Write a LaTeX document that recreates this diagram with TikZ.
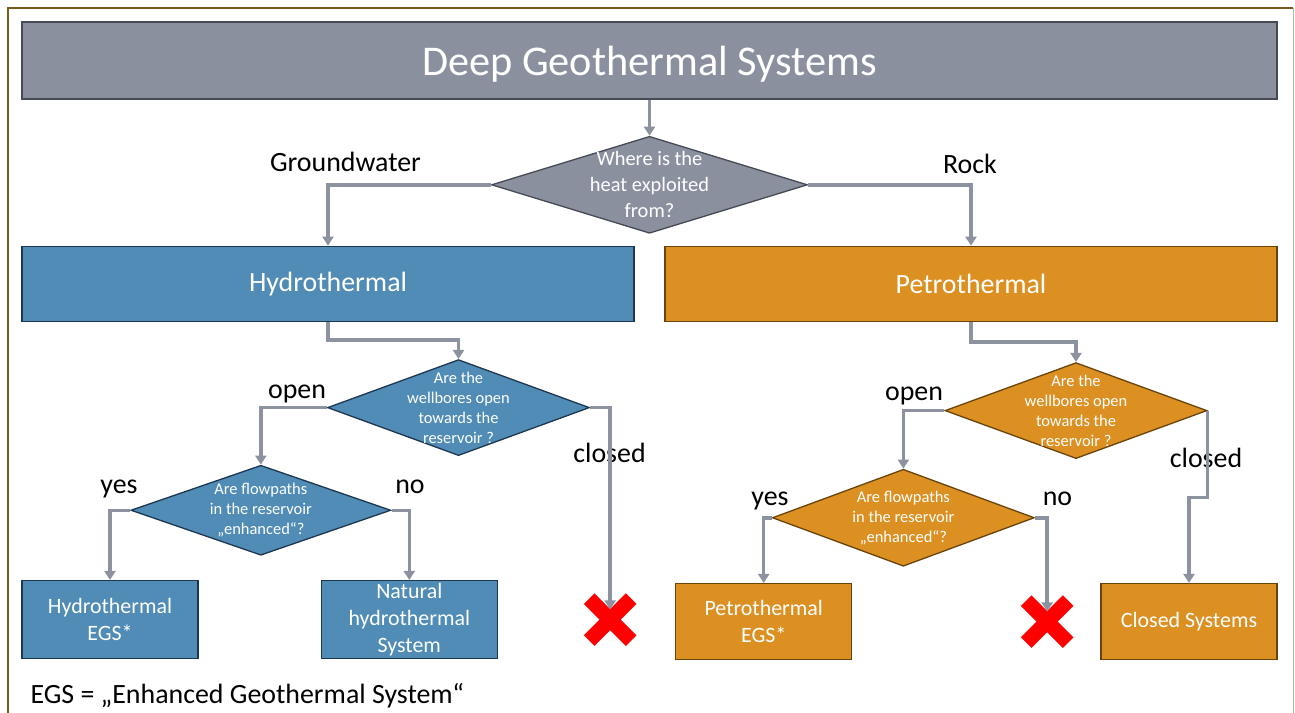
\documentclass[tikz,border=0pt]{standalone}
\usepackage{fontspec}
\setmainfont{Carlito}
\usetikzlibrary{shapes.geometric,positioning,arrows.meta}
\definecolor{titlegray}{RGB}{138,144,158}
\definecolor{titleline}{RGB}{70,74,84}
\definecolor{hydblue}{RGB}{80,140,182}
\definecolor{hydline}{RGB}{30,55,80}
\definecolor{petroorange}{RGB}{221,144,34}
\definecolor{petroline}{RGB}{105,68,10}
\definecolor{linegray}{RGB}{140,146,160}
\definecolor{xred}{RGB}{255,0,0}
\definecolor{framedark}{RGB}{120,90,30}
\definecolor{frametan}{RGB}{190,176,150}
\tikzset{
x=1bp, y=-1bp,
>={Triangle[width=11bp,length=9bp]},
flow/.style={->, draw=linegray, line width=3.5bp},
}

\begin{document}
\begin{tikzpicture}
    [block/.style={rectangle, draw, line width=1.3bp, inner sep=0, text=white, align=center},
    titlebox/.style={block, fill=titlegray, draw=titleline, minimum width=1255bp, minimum height=77bp,
        text height=42bp, text depth=11bp, font=\fontsize{42.5}{52}\selectfont},
    bigbox/.style={block, minimum width=612bp, minimum height=75bp, font=\fontsize{28}{34}\selectfont},
    endbox/.style={block, minimum width=176bp, minimum height=77bp, font=\fontsize{22}{27}\selectfont},
    question/.style={diamond, draw, line width=1.3bp, inner sep=0, minimum width=262bp, minimum height=96bp},
    qtext/.style={text=white, align=center, font=\fontsize{16.5}{20}\selectfont},
    hyd/.style={fill=hydblue, draw=hydline},
    petro/.style={fill=petroorange, draw=petroline},
    lbl/.style={anchor=base, font=\fontsize{28}{34}\selectfont},
    nogo/.style={minimum size=20bp, inner sep=0},
    cross/.style={draw=xred, line width=15bp}
    ]

    \useasboundingbox (0,0) rectangle (1295,713);
    \draw[framedark, line width=2bp] (8,713) -- (8,8) -- (1293,8);
    \draw[frametan, line width=1.2bp] (1293.5,8) -- (1293.5,713);

    \node [titlebox] (title) at (649.5,60.5) {Deep Geothermal Systems};

    \node [question, fill=titlegray, draw=titleline, minimum width=316bp, minimum height=97bp,
        label={[qtext, font=\fontsize{20.5}{26}\selectfont]center:{Where is the\\heat exploited\\from?}}]
        (d1) [below=36bp of title] {};

    \node [bigbox, hyd] (hydro) [below=146bp of title.south west, anchor=north west] {Hydrothermal};
    \node [bigbox, petro] (petrobox) [below=146bp of title.south east, anchor=north east] {Petrothermal};

    \node [question, hyd, label={[qtext]center:{Are the\\wellbores open\\towards the\\reservoir ?}}]
        (d2) [below=37bp of hydro.south, xshift=130.5bp] {};
    \node [question, hyd, minimum width=260bp, minimum height=90bp,
        label={[qtext]center:{Are flowpaths\\in the reservoir\\„enhanced“?}}]
        (d3) [below=57bp of d2.west, xshift=-66bp] {};

    \node [question, petro, label={[qtext]center:{Are the\\wellbores open\\towards the\\reservoir ?}}]
        (d4) [below=40bp of petrobox.south, xshift=105bp] {};
    \node [question, petro, minimum height=97bp,
        label={[qtext]center:{Are flowpaths\\in the reservoir\\„enhanced“?}}]
        (d5) [below=58bp of d4.west, xshift=-41bp] {};

    \node [endbox, hyd, minimum height=78bp] (hegs) [below=258bp of hydro.south west, anchor=north west] {Hydrothermal\\EGS*};
    \node [endbox, hyd, minimum height=78bp] (nat) [right=122bp of hegs] {Natural\\hydrothermal\\System};
    \node [nogo] (x1) [right=102bp of nat] {};

    \node [endbox, petro, minimum height=76bp] (closed) [below=261bp of petrobox.south east, anchor=north east] {Closed Systems};
    \node [endbox, petro, minimum height=76bp] (pegs) [left=248bp of closed] {Petrothermal\\EGS*};
    \node [nogo] (x2) [left=43bp of closed] {};

    \node [lbl] (gw) at (345.5,172) {Groundwater};
    \node [lbl] (rock) at (970,174) {Rock};
    \node [lbl] (openl) at (297,398) {open};
    \node [lbl] (closedl) at (609.5,462) {closed};
    \node [lbl] (yesl) at (119,493) {yes};
    \node [lbl] (nol) at (410,493) {no};
    \node [lbl] (openr) at (914,400) {open};
    \node [lbl] (closedr) at (1206,467) {closed};
    \node [lbl] (yesr) at (770,505) {yes};
    \node [lbl] (nor) at (1057.5,505) {no};

    \node [anchor=base west, font=\fontsize{28}{34}\selectfont] (note) at (27,703) {EGS = „Enhanced Geothermal System“};

    \draw[cross] (x1) +(-21,-21) -- +(21,21) +(-21,21) -- +(21,-21);
    \draw[cross] (x2) +(-21,-21) -- +(21,21) +(-21,21) -- +(21,-21);

    \draw[flow] (title) -- (d1);
    \draw[flow] (d1.west) -| (hydro);
    \draw[flow] (d1.east) -| (petrobox);
    \draw[flow] (hydro.south) -- ++(0,18) -| (d2);
    \draw[flow] (petrobox.south) -- ++(0,20) -| (d4);
    \draw[flow] (d2.west) -| (d3);
    \draw[flow] (d2.east) -| (x1);
    \draw[flow] (d3.west) -| (hegs);
    \draw[flow] (d3.east) -| (nat);
    \draw[flow] (d4.west) -| (d5);
    \draw[flow] (d4.east) -- ++(0,87) -| (closed);
    \draw[flow] (d5.west) -| (pegs);
    \draw[flow] (d5.east) -| (x2);

\end{tikzpicture}
\end{document}
